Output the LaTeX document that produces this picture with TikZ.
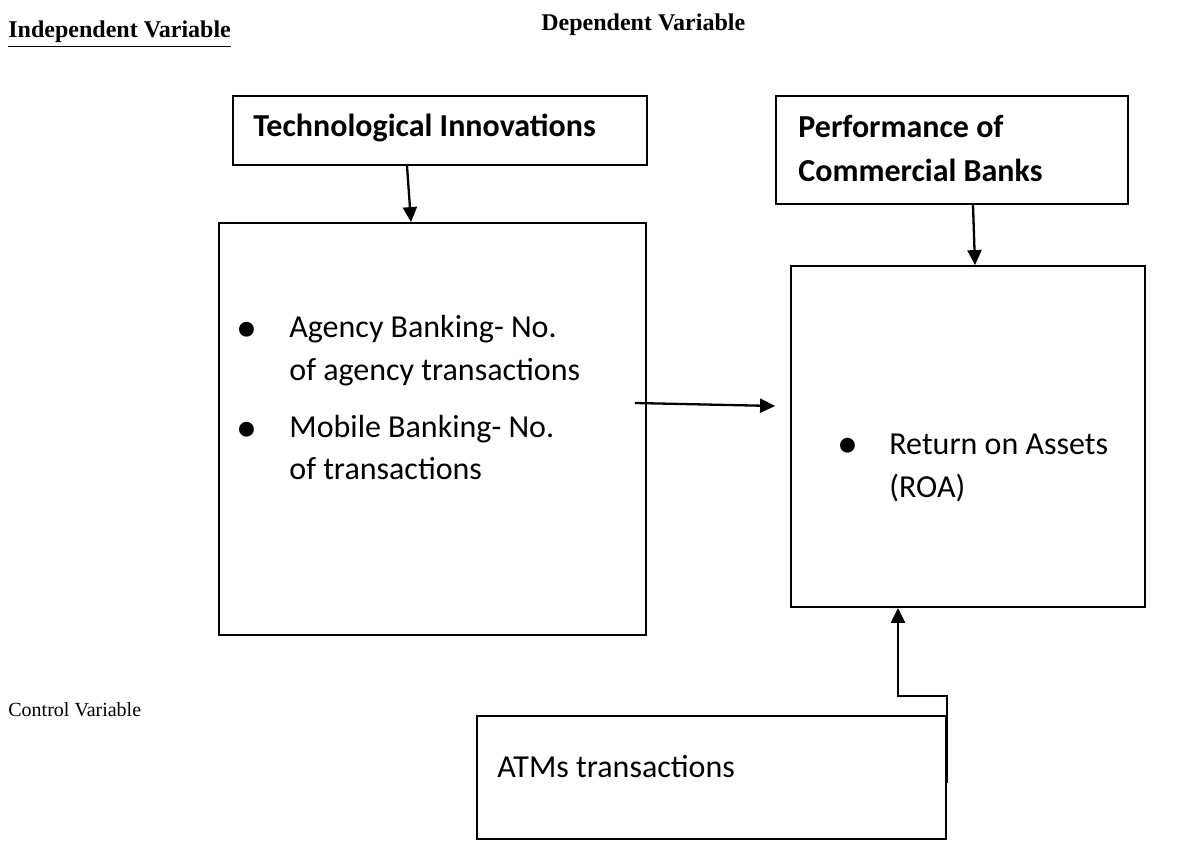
\documentclass[tikz,border=0pt]{standalone}
\usepackage{fontspec}
\setmainfont{Carlito}
\newfontfamily\timesfont{Liberation Serif}
\usepackage{tikz}
\usetikzlibrary{arrows.meta,positioning,calc}

\begin{document}
\begin{tikzpicture}[x=0.5pt,y=-0.5pt]
    \tikzset{
      box/.style={draw=black, line width=.9pt, inner sep=0pt, rectangle},
      heading/.style={anchor=base west, inner sep=0pt, font=\timesfont\fontsize{12}{14}\selectfont\bfseries},
      title/.style={anchor=base west, inner sep=0pt, align=left, font=\fontsize{16}{22}\selectfont\bfseries},
      body/.style={anchor=base west, inner sep=0pt, align=left, font=\fontsize{16}{21.25}\selectfont},
      dot/.style={anchor=base, inner sep=0pt, font=\fontsize{21}{21}\selectfont},
      link/.style={-{Triangle[length=7.5pt,width=7pt]}, draw=black, line width=1.15pt}
    }
    \useasboundingbox (0,0) rectangle (1184,845);
    % variable headings
    \node[heading] (indep) at (8,38) {\underline{Independent Variable}};
    \node[heading] (dep) at (541,31) {Dependent Variable};
    \node[anchor=base west, inner sep=0pt, font=\timesfont\fontsize{10}{12}\selectfont]
      (ctrl) at (8,716) {Control Variable};
    % boxes
    \node[box, minimum width=207pt, minimum height=34.5pt] (techbox) at (440,130.5) {};
    \node[box, minimum width=176pt, minimum height=54pt] (perfbox) at (952,150) {};
    \node[box, minimum width=213.5pt, minimum height=206pt] (indbox) at (432.5,429) {};
    \node[box, minimum width=177pt, minimum height=170.5pt] (roabox) at (968,436.5) {};
    \node[box, minimum width=234.5pt, minimum height=61.5pt] (atmbox) at (711.5,777.5) {};
    % box texts (base = last line)
    \node[title] (techtxt) at (253,137) {Technological Innovations};
    \node[title] (perftxt) at (798,182) {Performance of\\Commercial Banks};
    \node[dot] (b1) at (247,342) {\textbullet};
    \node[body] (agency) at (289,380) {Agency Banking- No.\\of agency transactions};
    \node[dot] (b2) at (247,441) {\textbullet};
    \node[body] (mobile) at (289,480) {Mobile Banking- No.\\of transactions};
    \node[dot] (b3) at (848,457) {\textbullet};
    \node[body] (roatxt) at (889,497) {Return on Assets\\(ROA)};
    \node[body] (atmtxt) at (497,777) {ATMs transactions};
    % connectors
    \draw[link] ([xshift=-16.5pt]techbox.south) -- ([xshift=-10.75pt]indbox.north);
    \draw[link] ([xshift=10.5pt]perfbox.south) -- ([xshift=3.5pt]roabox.north);
    \draw[link] ([xshift=-6pt,yshift=13pt]indbox.east) -- ([xshift=-7.5pt,yshift=15.25pt]roabox.west);
    \draw[link] ([yshift=-2.75pt]atmbox.east) -- ++(0,-87) -| ([xshift=-35pt]roabox.south);
\end{tikzpicture}
\end{document}
